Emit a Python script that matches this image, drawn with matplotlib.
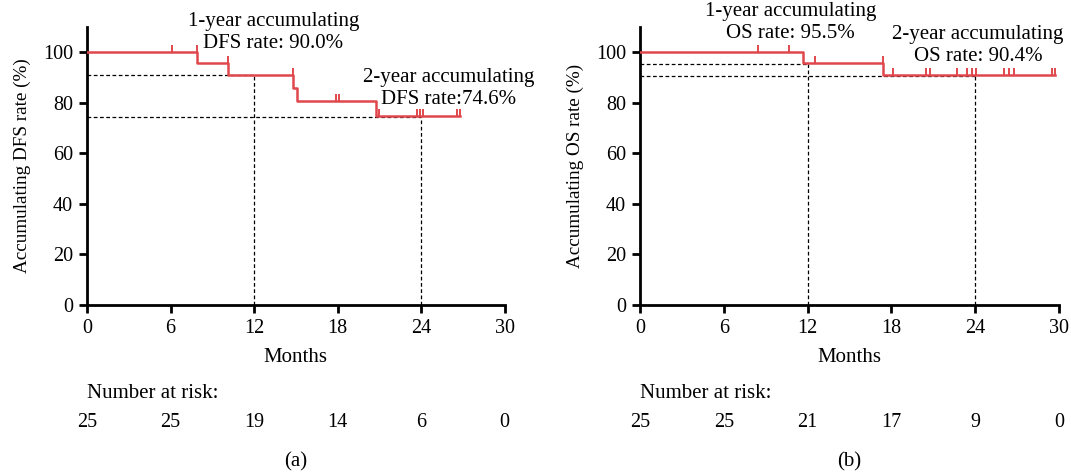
import matplotlib.pyplot as plt

plt.rcParams['font.family'] = ['Liberation Serif', 'DejaVu Serif']

RED = '#e0474c'

# DFS curve (panel a)
dfs_times = [0, 7.9, 10.15, 14.8, 15.1, 20.75, 26.8]
dfs_surv = [100, 95.8, 90.9, 85.6, 80.7, 74.8, 74.8]
dfs_censor_t = [6.1, 7.9, 10.15, 14.8, 17.9, 18.1, 21.0, 23.7, 23.9, 24.1, 26.6, 26.8]
dfs_rates = [90.9, 74.5]
dfs_risk = [25, 25, 19, 14, 6, 0]

# OS curve (panel b)
os_times = [0, 11.7, 17.4, 29.7]
os_surv = [100, 95.6, 90.8, 90.8]
os_censor_t = [8.45, 10.7, 12.5, 17.4, 18.1, 20.5, 20.8, 22.7, 23.4, 23.8, 24.1,
               26.1, 26.4, 26.8, 29.5, 29.7]
os_rates = [95.2, 90.4]
os_risk = [25, 25, 21, 17, 9, 0]

risk_months = [0, 6, 12, 18, 24, 30]
landmarks = [12, 24]


def surv_at(times, surv, t):
    v = surv[0]
    for ti, si in zip(times, surv):
        if ti < t:
            v = si
    return v


def km_panel(ax, times, surv, censor_t, rates, risk, ylabel, tag):
    for lm, r in zip(landmarks, rates):
        ax.plot([0, lm], [r, r], ls=(0, (3, 2)), color='black', lw=0.9)
        ax.plot([lm, lm], [0, r], ls=(0, (3, 2)), color='black', lw=0.9)
    ax.step(times, surv, where='post', color=RED, lw=1.8, zorder=3)
    cy = [surv_at(times, surv, t) for t in censor_t]
    ax.plot(censor_t, cy, ls='none', marker=2, ms=5, mew=1.4, color=RED, zorder=3)

    ax.set_xlim(0, 30)
    ax.set_ylim(0, 110)
    ax.set_xticks(range(0, 31, 6))
    ax.set_yticks(range(0, 101, 20))
    for s in ['top', 'right']:
        ax.spines[s].set_visible(False)
    for s in ['left', 'bottom']:
        ax.spines[s].set_linewidth(2)
    ax.tick_params(direction='out', length=6, width=2, labelsize=14.5, pad=4)
    ax.set_xlabel('Months', fontsize=15)
    ax.xaxis.set_label_coords(0.5, -0.155)
    ax.set_ylabel(ylabel, fontsize=13.8)
    ax.yaxis.set_label_coords(-0.134, 0.5)
    ax.text(0.0, -0.317, 'Number at risk:', transform=ax.transAxes, fontsize=15,
            ha='left', va='center')
    for m, n in zip(risk_months, risk):
        ax.text(m, -0.424, str(n), transform=ax.get_xaxis_transform(), fontsize=14.5,
                ha='center', va='center')
    ax.text(0.5, -0.565, tag, transform=ax.transAxes, fontsize=15, ha='center',
            va='center')


fig = plt.figure(figsize=(10.71, 4.74), dpi=100)
ax1 = fig.add_axes([0.0812, 0.3565, 0.390, 0.587])
ax2 = fig.add_axes([0.5976, 0.3565, 0.391, 0.587])

km_panel(ax1, dfs_times, dfs_surv, dfs_censor_t, dfs_rates, dfs_risk,
         'Accumulating DFS rate (%)', '(a)')
km_panel(ax2, os_times, os_surv, os_censor_t, os_rates, os_risk,
         'Accumulating OS rate (%)', '(b)')

ann = dict(fontsize=15, ha='center', va='center', linespacing=1.2, clip_on=False)
ax1.text(13.4, 107.7, '1-year accumulating\nDFS rate: 90.0%', **ann)
ax1.text(26.0, 85.5, '2-year accumulating\nDFS rate:74.6%', **ann)
ax2.text(10.8, 111.6, '1-year accumulating\nOS rate: 95.5%', **ann)
ax2.text(24.2, 102.6, '2-year accumulating\nOS rate: 90.4%', **ann)

fig.savefig('out.png', dpi=100)
